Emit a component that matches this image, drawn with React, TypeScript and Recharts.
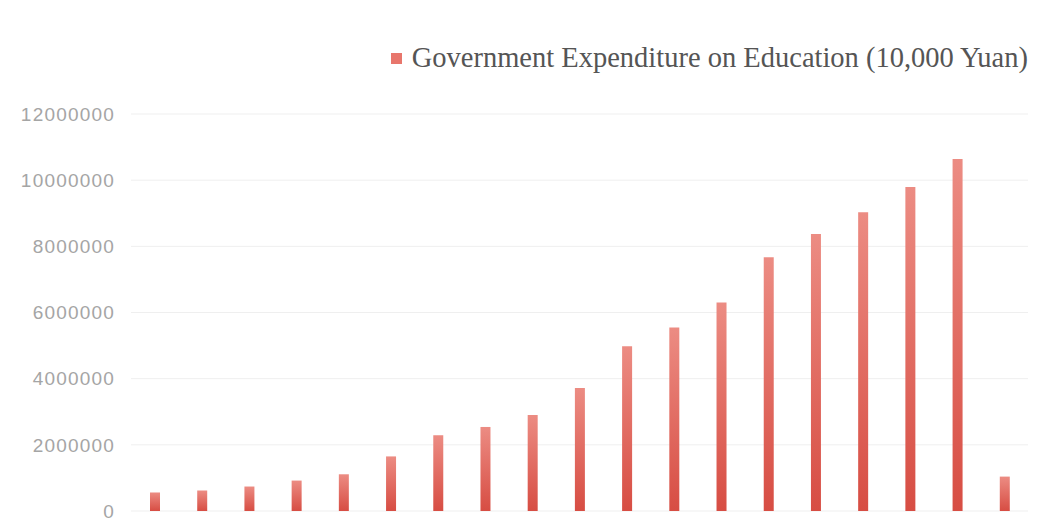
import { BarChart, Bar, XAxis, YAxis, CartesianGrid, Legend } from 'recharts';

const years = [
  '2000', '2001', '2002', '2003', '2004', '2005', '2006', '2007', '2008', '2009',
  '2010', '2011', '2012', '2013', '2014', '2015', '2016', '2017', '2018',
];
const spending = [
  560000, 620000, 740000, 920000, 1110000, 1650000, 2290000, 2540000, 2900000, 3720000,
  4980000, 5550000, 6300000, 7670000, 8370000, 9030000, 9790000, 10640000, 1040000,
];
const yTicks = [0, 2000000, 4000000, 6000000, 8000000, 10000000, 12000000];
const seriesName = 'Government Expenditure on Education (10,000 Yuan)';

const data = years.map((y, i) => ({ year: y, value: spending[i] }));

function LegendBox() {
  return (
    <div style={{ display: 'flex', alignItems: 'center', justifyContent: 'flex-end', height: 40 }}>
      <span style={{ width: 11, height: 11, background: '#e8766c', marginRight: 10, display: 'inline-block' }} />
      <span style={{ fontFamily: '"Liberation Serif", serif', fontSize: 28.5, color: '#555' }}>{seriesName}</span>
    </div>
  );
}

export default function App() {
  return (
    <div style={{ position: 'absolute', left: 0, top: 0, background: '#fff' }}>
      <BarChart width={1042} height={525} data={data} margin={{ top: 74, right: 14, bottom: 14, left: 0 }}>
        <defs>
          <linearGradient id="barFill" x1="0" y1="0" x2="0" y2="1">
            <stop offset="0%" stopColor="#ec8c83" />
            <stop offset="100%" stopColor="#d74d43" />
          </linearGradient>
        </defs>
        <CartesianGrid vertical={false} stroke="#efefef" />
        <XAxis dataKey="year" hide />
        <YAxis
          width={131}
          domain={[0, 12000000]}
          ticks={yTicks}
          axisLine={false}
          tickLine={false}
          tickSize={0}
          tickMargin={16}
          tick={{ fontSize: 19, fill: '#a5a5a5', letterSpacing: 1.2, fontFamily: '"Liberation Sans", Arial, sans-serif' }}
        />
        <Legend
          verticalAlign="top"
          align="right"
          wrapperStyle={{ top: 38, right: 14 }}
          content={() => <LegendBox />}
        />
        <Bar dataKey="value" name={seriesName} fill="url(#barFill)" barSize={10} isAnimationActive={false} />
      </BarChart>
    </div>
  );
}
